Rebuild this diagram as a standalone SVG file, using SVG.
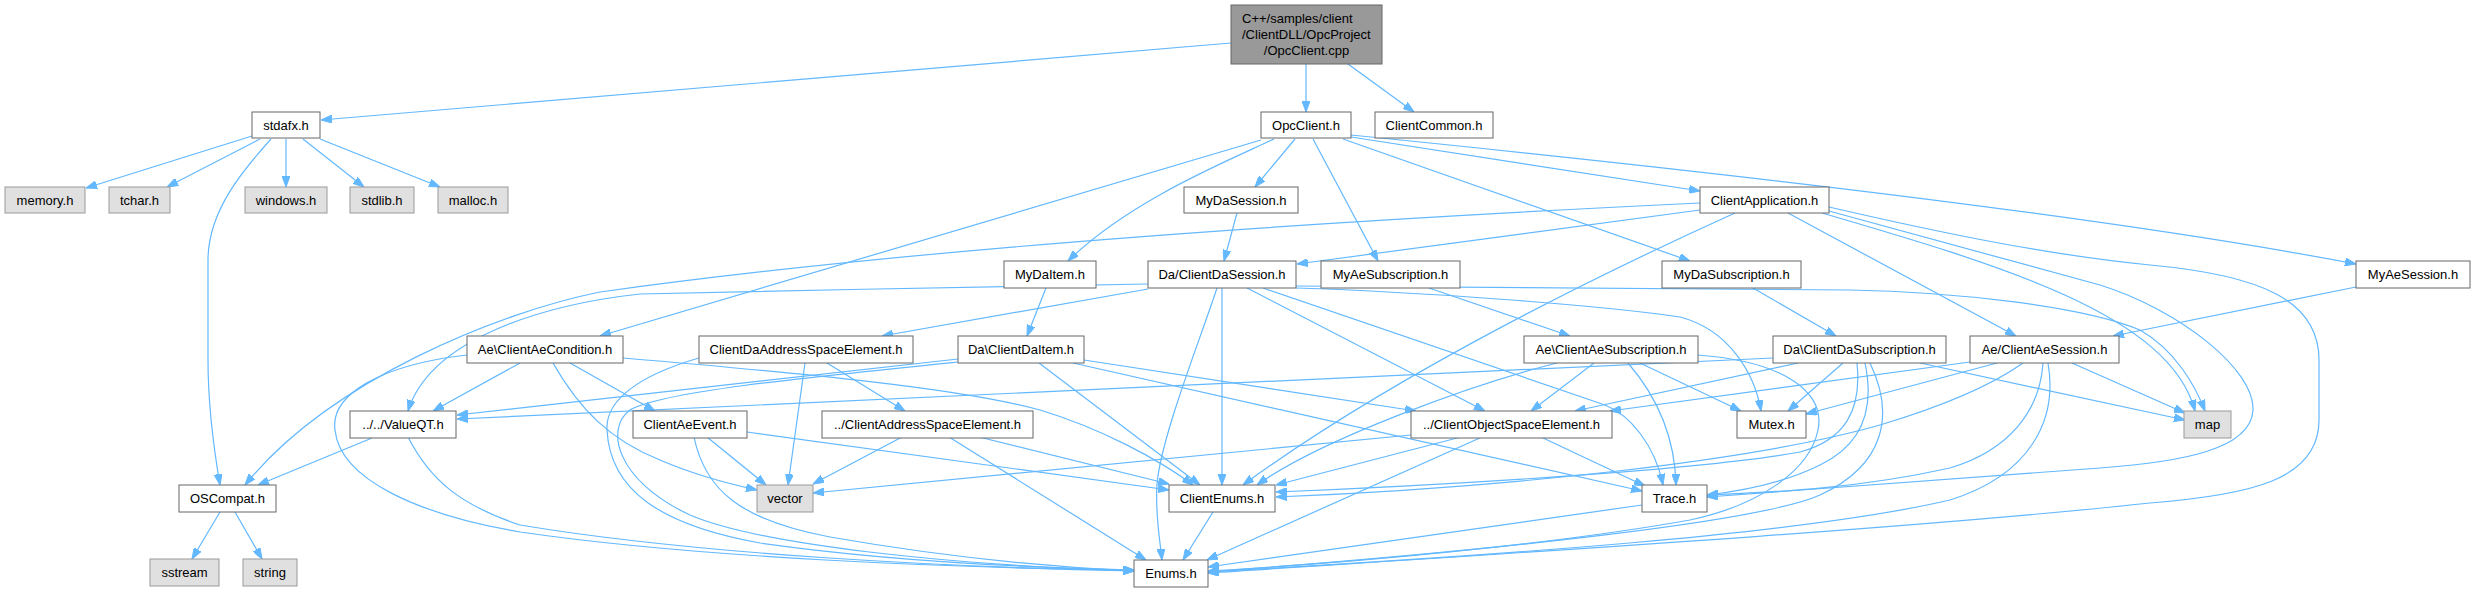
<svg xmlns="http://www.w3.org/2000/svg" width="2475" height="592" viewBox="0 0 2475 592">
<style>
rect{stroke-width:1}
.n rect{fill:#ffffff;stroke:#666666}
.g rect{fill:#e0e0e0;stroke:#999999}
.r rect{fill:#999999;stroke:#666666}
text{font-family:"Liberation Sans",Arial,sans-serif;font-size:13px;text-anchor:middle;fill:#000}
#edges path{fill:none;stroke:#63b8ff;stroke-width:1.2;marker-end:url(#a)}
</style>
<defs>
<marker id="a" markerWidth="11" markerHeight="8" refX="11" refY="4" orient="auto" markerUnits="userSpaceOnUse"><path d="M0,0 L11,4 L0,8 z" fill="#63b8ff" stroke="#63b8ff" stroke-width="1"/></marker>
</defs>
<rect width="2475" height="592" fill="#ffffff"/>
<g id="edges">
<path d="M1231,43 L321,120"/>
<path d="M1306,64 L1306,112"/>
<path d="M1348,64 L1414,112"/>
<path d="M252,136 L86,188"/>
<path d="M260,139 L167,187"/>
<path d="M271,139 C245,168 208,210 208,260 L208,360 C208,400 214,450 220,485"/>
<path d="M286,139 L286,187"/>
<path d="M303,139 L364,187"/>
<path d="M320,139 L440,187"/>
<path d="M1261,140 L600,336"/>
<path d="M1274,139 C1230,160 1130,200 1068,261"/>
<path d="M1295,139 L1255,187"/>
<path d="M1313,139 L1378,261"/>
<path d="M1343,139 L1690,261"/>
<path d="M1351,137 L1700,191"/>
<path d="M1351,135 C1700,170 2100,215 2356,264"/>
<path d="M1237,213 L1224,261"/>
<path d="M1700,203 C1300,222 900,250 600,292 C500,312 330,380 245,485"/>
<path d="M1700,210 L1297,264"/>
<path d="M1735,213 C1620,265 1400,370 1243,485"/>
<path d="M1788,213 L2016,336"/>
<path d="M1822,213 C2000,265 2170,315 2195,411"/>
<path d="M1829,211 L2100,285 C2180,310 2255,370 2253,410 C2251,450 2180,462 2100,468 L1707,497"/>
<path d="M1829,207 C1950,235 2050,255 2150,265 C2260,275 2319,300 2319,360 L2319,420 C2319,480 2250,495 2150,503 C1900,530 1450,557 1208,573"/>
<path d="M1046,288 L1027,336"/>
<path d="M1429,288 L1570,336"/>
<path d="M1753,288 L1836,336"/>
<path d="M2356,287 L2113,336"/>
<path d="M1148,284 C1000,287 800,290 640,294 C540,305 430,340 408,411"/>
<path d="M1148,289 L882,336"/>
<path d="M1217,288 C1200,340 1160,440 1157,485 C1155,515 1160,540 1162,560"/>
<path d="M1222,288 L1222,485"/>
<path d="M1247,288 L1485,411"/>
<path d="M1263,288 L1605,405 C1630,415 1655,445 1663,485"/>
<path d="M1296,288 C1420,292 1600,305 1680,317 C1730,330 1755,375 1761,411"/>
<path d="M1296,286 L1850,290 C1950,292 2080,305 2140,330 C2175,350 2195,385 2205,411"/>
<path d="M520,363 L433,411"/>
<path d="M467,355 C380,365 330,395 335,430 C340,480 420,515 520,532 C700,558 950,568 1134,570"/>
<path d="M570,363 L655,411"/>
<path d="M553,363 C580,410 610,440 660,460 C690,473 725,483 757,490"/>
<path d="M623,358 C800,373 960,388 1040,410 C1100,428 1160,460 1193,485"/>
<path d="M805,363 L788,485"/>
<path d="M827,363 L905,411"/>
<path d="M699,358 C640,375 605,400 607,430 C610,490 660,525 760,543 C880,560 1000,567 1134,570"/>
<path d="M958,359 L457,415"/>
<path d="M958,362 C800,378 660,392 630,410 C605,428 615,480 690,515 C760,545 950,565 1134,571"/>
<path d="M1039,363 L1200,485"/>
<path d="M1084,360 L1416,411"/>
<path d="M1073,363 L1642,491"/>
<path d="M707,437 L766,485"/>
<path d="M694,437 C705,490 740,520 830,537 C950,558 1050,567 1134,571"/>
<path d="M747,432 L1169,490"/>
<path d="M902,437 L813,484"/>
<path d="M949,437 L1146,560"/>
<path d="M979,437 L1169,484"/>
<path d="M372,438 L258,485"/>
<path d="M408,437 C430,480 460,505 520,525 C700,555 950,567 1134,571"/>
<path d="M220,512 L192,559"/>
<path d="M235,512 L262,559"/>
<path d="M1213,512 L1183,560"/>
<path d="M1411,435 L813,493"/>
<path d="M1461,437 L1276,485"/>
<path d="M1482,437 L1207,560"/>
<path d="M1541,437 L1645,486"/>
<path d="M1642,505 L1208,567"/>
<path d="M1557,363 C1470,385 1320,440 1257,485"/>
<path d="M1594,363 L1531,411"/>
<path d="M1628,363 C1660,400 1675,440 1676,485"/>
<path d="M1640,363 L1741,411"/>
<path d="M1698,355 C1790,362 1825,395 1818,430 C1810,470 1760,505 1690,520 C1550,545 1350,563 1208,571"/>
<path d="M1773,358 L457,419"/>
<path d="M1798,363 L1575,411"/>
<path d="M1843,363 L1788,411"/>
<path d="M1920,363 L2185,420"/>
<path d="M1857,363 C1862,410 1845,440 1800,452 C1700,470 1450,485 1276,492"/>
<path d="M1865,363 C1875,410 1862,445 1820,465 C1790,480 1750,490 1707,495"/>
<path d="M1870,363 C1895,415 1885,465 1820,495 C1760,522 1500,550 1208,572"/>
<path d="M1970,362 L1610,411"/>
<path d="M1997,363 L1806,414"/>
<path d="M2023,363 C1985,390 1930,410 1880,425 C1750,462 1500,488 1276,497"/>
<path d="M2043,363 C2040,410 2010,450 1950,468 C1860,488 1780,492 1707,495"/>
<path d="M2048,363 C2058,420 2030,475 1950,500 C1800,535 1500,555 1208,572"/>
<path d="M2072,363 L2185,413"/>
</g>
<g id="root" class="r"><rect x="1231" y="5" width="151" height="59"/><text x="1242" y="23" style="text-anchor:start">C++/samples/client</text><text x="1242" y="39" style="text-anchor:start">/ClientDLL/OpcProject</text><text x="1306.5" y="55">/OpcClient.cpp</text></g>
<g id="stdafx" class="n"><rect x="252" y="112" width="68" height="26"/><text x="286" y="129.5">stdafx.h</text></g>
<g id="opcclient_h" class="n"><rect x="1261" y="112" width="90" height="26"/><text x="1306" y="129.5">OpcClient.h</text></g>
<g id="clientcommon" class="n"><rect x="1375" y="112" width="118" height="26"/><text x="1434" y="129.5">ClientCommon.h</text></g>
<g id="memory" class="g"><rect x="5" y="187" width="80" height="26"/><text x="45" y="204.5">memory.h</text></g>
<g id="tchar" class="g"><rect x="109" y="187" width="61" height="26"/><text x="139.5" y="204.5">tchar.h</text></g>
<g id="windows" class="g"><rect x="245" y="187" width="82" height="26"/><text x="286" y="204.5">windows.h</text></g>
<g id="stdlib" class="g"><rect x="350" y="187" width="64" height="26"/><text x="382" y="204.5">stdlib.h</text></g>
<g id="malloc" class="g"><rect x="438" y="187" width="70" height="26"/><text x="473" y="204.5">malloc.h</text></g>
<g id="mydasession" class="n"><rect x="1184" y="187" width="114" height="26"/><text x="1241" y="204.5">MyDaSession.h</text></g>
<g id="clientapp" class="n"><rect x="1700" y="187" width="129" height="26"/><text x="1764.5" y="204.5">ClientApplication.h</text></g>
<g id="mydaitem" class="n"><rect x="1004" y="261" width="92" height="27"/><text x="1050" y="279">MyDaItem.h</text></g>
<g id="dasession" class="n"><rect x="1148" y="261" width="148" height="27"/><text x="1222" y="279">Da/ClientDaSession.h</text></g>
<g id="myaesub" class="n"><rect x="1321" y="261" width="139" height="27"/><text x="1390.5" y="279">MyAeSubscription.h</text></g>
<g id="mydasub" class="n"><rect x="1662" y="261" width="139" height="27"/><text x="1731.5" y="279">MyDaSubscription.h</text></g>
<g id="myaesession" class="n"><rect x="2356" y="261" width="114" height="27"/><text x="2413" y="279">MyAeSession.h</text></g>
<g id="aecondition" class="n"><rect x="467" y="336" width="156" height="27"/><text x="545" y="354">Ae\ClientAeCondition.h</text></g>
<g id="daaddrspace" class="n"><rect x="699" y="336" width="214" height="27"/><text x="806" y="354">ClientDaAddressSpaceElement.h</text></g>
<g id="daitem" class="n"><rect x="958" y="336" width="126" height="27"/><text x="1021" y="354">Da\ClientDaItem.h</text></g>
<g id="aesub" class="n"><rect x="1524" y="336" width="174" height="27"/><text x="1611" y="354">Ae\ClientAeSubscription.h</text></g>
<g id="dasub" class="n"><rect x="1773" y="336" width="173" height="27"/><text x="1859.5" y="354">Da\ClientDaSubscription.h</text></g>
<g id="aesession" class="n"><rect x="1970" y="336" width="149" height="27"/><text x="2044.5" y="354">Ae/ClientAeSession.h</text></g>
<g id="valueqt" class="n"><rect x="350" y="411" width="106" height="27"/><text x="403" y="429">../../ValueQT.h</text></g>
<g id="aeevent" class="n"><rect x="633" y="411" width="114" height="27"/><text x="690" y="429">ClientAeEvent.h</text></g>
<g id="addrspace" class="n"><rect x="822" y="411" width="211" height="27"/><text x="927.5" y="429">../ClientAddressSpaceElement.h</text></g>
<g id="objspace" class="n"><rect x="1411" y="411" width="201" height="27"/><text x="1511.5" y="429">../ClientObjectSpaceElement.h</text></g>
<g id="mutex" class="n"><rect x="1737" y="411" width="69" height="27"/><text x="1771.5" y="429">Mutex.h</text></g>
<g id="map" class="g"><rect x="2184" y="411" width="47" height="27"/><text x="2207.5" y="429">map</text></g>
<g id="oscompat" class="n"><rect x="179" y="485" width="97" height="27"/><text x="227.5" y="503">OSCompat.h</text></g>
<g id="vector" class="g"><rect x="757" y="485" width="56" height="27"/><text x="785" y="503">vector</text></g>
<g id="clientenums" class="n"><rect x="1169" y="485" width="106" height="27"/><text x="1222" y="503">ClientEnums.h</text></g>
<g id="trace" class="n"><rect x="1642" y="485" width="65" height="27"/><text x="1674.5" y="503">Trace.h</text></g>
<g id="sstream" class="g"><rect x="150" y="559" width="69" height="27"/><text x="184.5" y="577">sstream</text></g>
<g id="string" class="g"><rect x="243" y="559" width="54" height="27"/><text x="270" y="577">string</text></g>
<g id="enums" class="n"><rect x="1134" y="560" width="74" height="27"/><text x="1171" y="578">Enums.h</text></g>
</svg>
